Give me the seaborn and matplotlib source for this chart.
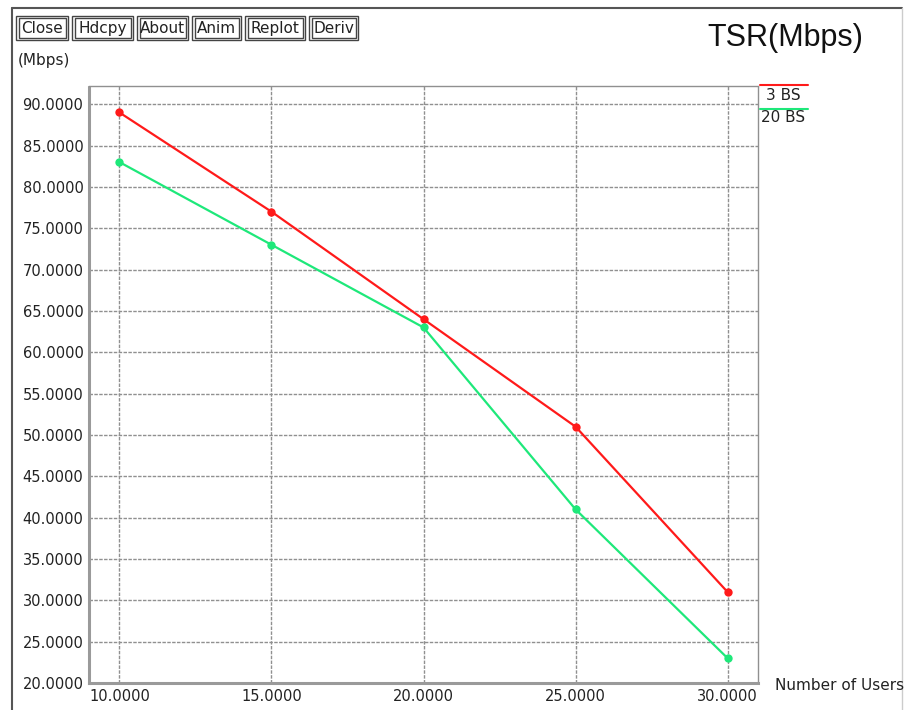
import matplotlib
matplotlib.use("Agg")
import matplotlib.pyplot as plt
from matplotlib.patches import Rectangle
from matplotlib.lines import Line2D
from matplotlib.ticker import FormatStrFormatter
import seaborn as sns
import pandas as pd

users = [10, 15, 20, 25, 30]
tsr_3bs = [89, 77, 64, 51, 31]
tsr_20bs = [83, 73, 63, 41, 23]
series_names = ["3 BS", "20 BS"]
series_colors = ["#ff1a1a", "#1ee87a"]
buttons = ["Close", "Hdcpy", "About", "Anim", "Replot", "Deriv"]
x_ticks = [10, 15, 20, 25, 30]
y_ticks = [20, 25, 30, 35, 40, 45, 50, 55, 60, 65, 70, 75, 80, 85, 90]

df = pd.DataFrame({
    "users": users * 2,
    "tsr": tsr_3bs + tsr_20bs,
    "series": [series_names[0]] * len(users) + [series_names[1]] * len(users),
})

sns.set_style("white")
plt.rcParams["font.family"] = ["DejaVu Sans"]

W, H = 905, 710
fig = plt.figure(figsize=(W / 100, H / 100), dpi=100)

def fx(px):
    return px / W

def fy(py):
    return 1 - py / H

ax = fig.add_axes([fx(89), fy(683), fx(758) - fx(89), fy(86) - fy(683)])

sns.lineplot(data=df, x="users", y="tsr", hue="series", palette=series_colors,
             hue_order=series_names, marker="o", markersize=6, markeredgewidth=0,
             linewidth=1.6, ax=ax, legend=False, zorder=3)

ax.set_xlim(9.0, 31.0)
ax.set_ylim(20, 92.2)
ax.set_xticks(x_ticks)
ax.set_yticks(y_ticks)
ax.xaxis.set_major_formatter(FormatStrFormatter("%.4f"))
ax.yaxis.set_major_formatter(FormatStrFormatter("%.4f"))
ax.tick_params(axis="both", length=0, labelsize=10.5, colors="#222222", pad=4)
ax.set_xlabel("")
ax.set_ylabel("")
ax.grid(True, color="#909090", linestyle=(0, (2.5, 1)), linewidth=1.0, zorder=1)

for side in ["top", "right"]:
    ax.spines[side].set_color("#909090")
    ax.spines[side].set_linestyle((0, (2.5, 1)))
    ax.spines[side].set_linewidth(1.0)
for side in ["left", "bottom"]:
    ax.spines[side].set_color("#9a9a9a")
    ax.spines[side].set_linestyle((0, (1, 1)))
    ax.spines[side].set_linewidth(2.2)

# window frame
fig.add_artist(Line2D([fx(12), fx(12)], [fy(8), fy(710)], color="#555555", linewidth=1.5))
fig.add_artist(Line2D([fx(12), fx(902)], [fy(8), fy(8)], color="#555555", linewidth=1.5))
fig.add_artist(Line2D([fx(902), fx(902)], [fy(8), fy(710)], color="#cccccc", linewidth=1.0))

# control buttons
button_edges = [(16, 68), (72, 133), (137, 188), (192, 241), (245, 305), (309, 358)]
for label, (x0, x1) in zip(buttons, button_edges):
    for inset in (0, 2.5):
        fig.add_artist(Rectangle((fx(x0 + inset), fy(40 - inset)),
                                 fx(x1 - x0 - 2 * inset), fy(16 + inset) - fy(40 - inset),
                                 fill=False, edgecolor="#444444", linewidth=1.0))
    fig.text(fx((x0 + x1) / 2), fy(28.5), label, ha="center", va="center",
             fontsize=11, color="#222222")

fig.text(fx(18), fy(60), "(Mbps)", ha="left", va="center", fontsize=11,
         color="#222222")
fig.text(fx(785), fy(38), "TSR(Mbps)", ha="center", va="center", fontsize=22,
         color="#111111", family="Liberation Sans")
fig.text(fx(775), fy(686), "Number of Users", ha="left", va="center", fontsize=11,
         color="#222222")

# legend beside the plot
legend_rows = [(85, 95), (109, 118)]
for name, color, (ly, ty) in zip(series_names, series_colors, legend_rows):
    fig.add_artist(Line2D([fx(760), fx(808)], [fy(ly), fy(ly)], color=color, linewidth=1.5))
    fig.text(fx(783), fy(ty), name, ha="center", va="center", fontsize=11,
             color="#222222")

fig.savefig("out.png", dpi=100, facecolor="white")
